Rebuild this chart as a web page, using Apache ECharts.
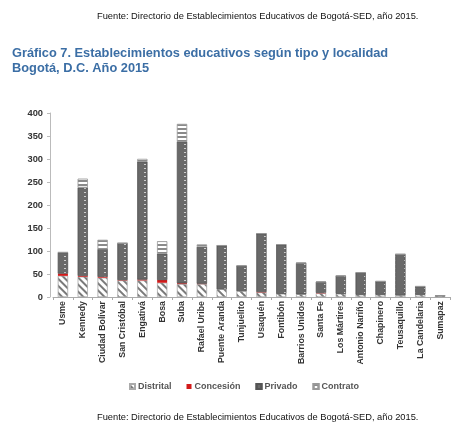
<!DOCTYPE html>
<html>
<head>
<meta charset="utf-8">
<script src="https://cdn.jsdelivr.net/npm/echarts@6/dist/echarts.min.js"></script>
<style>
html,body{margin:0;padding:0;background:#fff;}
#chart{width:451px;height:428px;}
</style>
</head>
<body>
<div id="chart"></div>
<script>
var categories = ['Usme','Kennedy','Ciudad Bolívar','San Cristóbal','Engativá','Bosa','Suba','Rafael Uribe','Puente Aranda','Tunjuelito','Usaquén','Fontibón','Barrios Unidos','Santa Fe','Los Mártires','Antonio Nariño','Chapinero','Teusaquillo','La Candelaria','Sumapaz'];
var distrital = [46, 44, 42, 36, 36, 31, 28, 28, 17, 13, 10, 7, 6, 8, 7, 5, 5, 4, 5, 3];
var concesion = [5, 2, 2, 1, 2, 6, 2, 1, 0, 0, 1, 0, 0, 1, 0, 0, 0, 0, 0, 0];
var privado = [46, 192, 60, 80, 256, 57, 308, 80, 95, 55, 127, 107, 68, 24, 39, 48, 29, 89, 18, 0];
var contrato = [0, 19, 20, 0, 6, 27, 38, 5, 0, 0, 0, 0, 0, 0, 0, 0, 0, 0, 0, 0];
var yTicks = [0, 50, 100, 150, 200, 250, 300, 350, 400];

var chart = echarts.init(document.getElementById('chart'), null, {renderer: 'canvas'});
var font = '"Liberation Sans", Arial, sans-serif';
var sourceText = 'Fuente: Directorio de Establecimientos Educativos de Bogotá-SED, año 2015.';

var option = {
  backgroundColor: '#fff',
  animation: false,
  title: [
    {text: sourceText, left: 92, top: 7, textStyle: {fontFamily: font, fontSize: 9.3, fontWeight: 'normal', color: '#111'}},
    {text: 'Gráfico 7. Establecimientos educativos según tipo y localidad\nBogotá, D.C. Año 2015', left: 7, top: 41,
      textStyle: {fontFamily: font, fontSize: 12.8, fontWeight: 'bold', color: '#3b6ea5', lineHeight: 15}},
    {text: sourceText, left: 92, top: 408, textStyle: {fontFamily: font, fontSize: 9.3, fontWeight: 'normal', color: '#111'}}
  ],
  legend: {
    left: 124, top: 377,
    icon: 'rect',
    itemWidth: 5, itemHeight: 5, itemGap: 15,
    textStyle: {fontFamily: font, fontSize: 9, fontWeight: 'bold', color: '#555', padding: [0,0,0,-2]},
    data: ['Distrital','Concesión','Privado','Contrato']
  },
  grid: {left: 53, right: 1, top: 113, bottom: 131},
  xAxis: {
    type: 'category',
    data: categories,
    axisLine: {lineStyle: {color: '#aaa', width: 1}},
    axisTick: {show: true, lineStyle: {color: '#aaa'}, length: 3},
    axisLabel: {rotate: 90, interval: 0, margin: 4, fontFamily: font, fontSize: 8.8, fontWeight: 'bold', color: '#333'}
  },
  yAxis: {
    type: 'value', min: 0, max: 400, interval: 50,
    offset: 3,
    axisLine: {show: true, lineStyle: {color: '#bbb'}},
    axisTick: {show: true, length: 3, lineStyle: {color: '#bbb'}},
    splitLine: {show: false},
    axisLabel: {margin: 7, fontFamily: font, fontSize: 9.3, fontWeight: 'bold', color: '#333',
      formatter: function (v) { return yTicks.indexOf(v) >= 0 ? String(v) : ''; }}
  },
  series: [
    {name: 'Distrital', type: 'bar', stack: 't', data: distrital, barWidth: 10,
      itemStyle: {color: '#fff', borderColor: '#aaa', borderWidth: 0.5,
        decal: {symbol: 'rect', color: '#7a7a7a', dashArrayX: [1, 0], dashArrayY: [2, 3], rotation: Math.PI / 4}}},
    {name: 'Concesión', type: 'bar', stack: 't', data: concesion, barWidth: 10,
      itemStyle: {color: '#d21a1a'}},
    {name: 'Privado', type: 'bar', stack: 't', data: privado, barWidth: 10,
      itemStyle: {color: '#696969', borderColor: '#555', borderWidth: 0.5,
        decal: {symbol: 'rect', color: '#cfcfcf', dashArrayX: [[0, 4, 1.5, 4]], dashArrayY: [1, 3]}}},
    {name: 'Contrato', type: 'bar', stack: 't', data: contrato, barWidth: 10,
      itemStyle: {color: '#fff', borderColor: '#999', borderWidth: 0.5,
        decal: {symbol: 'rect', color: '#8a8a8a', dashArrayX: [1, 0], dashArrayY: [1.5, 1.5]}}}
  ]
};
chart.setOption(option);
</script>
</body>
</html>
